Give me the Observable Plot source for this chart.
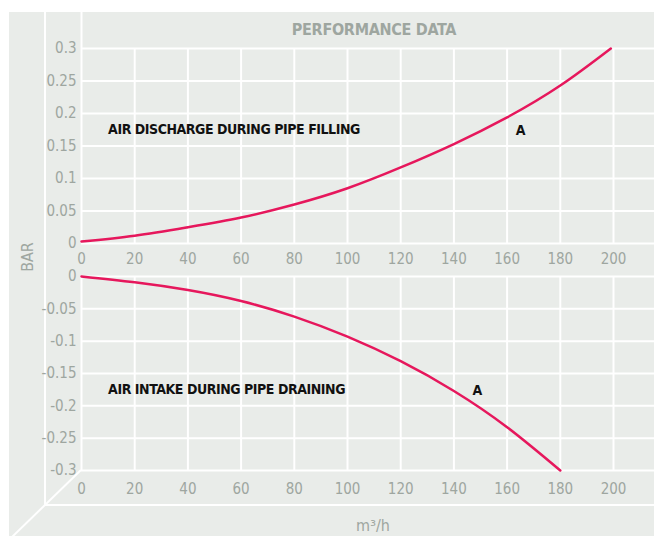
<!DOCTYPE html>
<html>
<head>
<meta charset="utf-8">
<script src="https://cdn.jsdelivr.net/npm/d3@7"></script>
<script src="https://cdn.jsdelivr.net/npm/@observablehq/plot@0.6"></script>
<style>
  body { margin: 0; background: #ffffff; }
  #wrap { position: relative; width: 654px; height: 536px; overflow: hidden;
          font-family: "Liberation Sans Narrow", "DejaVu Sans Condensed", Roboto, sans-serif; }
  #bg { position: absolute; left: 9px; top: 12px; width: 645px; height: 524px; background: #e9ece9; }
  #frame { position: absolute; left: 0; top: 0; }
  .abs { position: absolute; }
  #title { position: absolute; left: 274px; width: 200px; top: 20px; line-height: 20px; text-align: center;
           font-size: 16px; letter-spacing: -0.3px; font-weight: bold; color: #9ea6a0; }
  #ylab { position: absolute; left: 27px; top: 257px; transform: translate(-50%, -50%) rotate(-90deg);
          font-size: 16px; color: #9ea6a0; white-space: nowrap; }
  #xlab { position: absolute; left: 373px; top: 525px; transform: translate(-50%, -50%);
          font-size: 16px; color: #9ea6a0; white-space: nowrap; }
</style>
</head>
<body>
<div id="wrap">
  <div id="bg"></div>
  <svg id="frame" width="654" height="536">
    <g stroke="#ffffff" stroke-width="2" fill="none">
      <line x1="45" y1="12" x2="45" y2="505"></line>
      <line x1="45" y1="505" x2="654" y2="505"></line>
      <line x1="81" y1="470" x2="12" y2="537"></line>
    </g>
  </svg>
  <div id="title">PERFORMANCE DATA</div>
  <div id="top" class="abs" style="left:0;top:0"></div>
  <div id="bottom" class="abs" style="left:0;top:270px"></div>
  <div id="ylab">BAR</div>
  <div id="xlab">m³/h</div>
</div>
<script>
// ---- data ----
const xTicks = [0, 20, 40, 60, 80, 100, 120, 140, 160, 180, 200];
const upperTicks = [0, 0.05, 0.1, 0.15, 0.2, 0.25, 0.3];
const lowerTicks = [0, -0.05, -0.1, -0.15, -0.2, -0.25, -0.3];

const fillingFlow = [0, 20, 40, 60, 80, 100, 120, 140, 160, 180, 199];
const fillingBar  = [0.003, 0.012, 0.025, 0.040, 0.060, 0.085, 0.117, 0.153, 0.194, 0.243, 0.300];

const drainingFlow = [0, 20, 40, 60, 80, 100, 120, 140, 160, 180];
const drainingBar  = [0, -0.009, -0.021, -0.038, -0.062, -0.093, -0.131, -0.177, -0.233, -0.300];

const fillingLabel = "AIR DISCHARGE DURING PIPE FILLING";
const drainingLabel = "AIR INTAKE DURING PIPE DRAINING";
const curveName = "A";

// ---- styling ----
const font = '"Liberation Sans Narrow", "DejaVu Sans Condensed", Roboto, sans-serif';
const gray = "#9ea6a0", pink = "#e6175c", white = "#ffffff", ink = "#111111";
const fmt = d => String(+d.toFixed(2));
const xMax = 200 * 573 / 532;

function panel(o) {
  const pts = o.flow.map((x, i) => ({x, y: o.bar[i]}));
  const marks = [
    Plot.ruleY(o.yTicks, {stroke: white, strokeWidth: 2}),
    Plot.ruleX(xTicks, {y1: o.yDomain[0], y2: o.yDomain[1], stroke: white, strokeWidth: 2}),
  ];
  if (o.extraTop) marks.push(Plot.ruleX([0], {y1: o.yDomain[1], y2: o.extraTop, stroke: white, strokeWidth: 2}));
  marks.push(
    Plot.line(pts, {x: "x", y: "y", stroke: pink, strokeWidth: 2.5, curve: "natural"}),
    Plot.text([o.label], {x: 10, y: o.labelY, text: d => d, textAnchor: "start", fill: ink, fontWeight: "bold", fontSize: 14}),
    Plot.text([curveName], {x: o.aX, y: o.aY, text: d => d, fill: ink, fontWeight: "bold", fontSize: 14}),
    Plot.axisX({ticks: xTicks, tickSize: 0, tickPadding: o.tickPadX, tickFormat: d => String(d), label: null}),
    Plot.axisY({ticks: o.yTicks, tickSize: 0, tickPadding: 5, tickFormat: fmt, label: null})
  );
  const svg = Plot.plot({
    width: 654,
    height: o.height,
    marginLeft: 81,
    marginRight: 0,
    marginTop: o.marginTop,
    marginBottom: o.marginBottom,
    x: {domain: [0, xMax], label: null},
    y: {domain: o.yDomain, label: null},
    style: {background: "transparent", color: gray, fontFamily: font, fontSize: "15px", overflow: "visible"},
    marks
  });
  svg.querySelectorAll('g[font-weight="bold"]').forEach(g => g.style.letterSpacing = "-0.45px");
  return svg;
}

document.getElementById("top").append(panel({
  flow: fillingFlow, bar: fillingBar, yDomain: [0, 0.3], yTicks: upperTicks,
  label: fillingLabel, labelY: 0.175, aX: 165, aY: 0.174,
  height: 270, marginTop: 48, marginBottom: 27, tickPadX: 10, extraTop: 0.3 * 231 / 195
}));

document.getElementById("bottom").append(panel({
  flow: drainingFlow, bar: drainingBar, yDomain: [-0.3, 0], yTicks: lowerTicks,
  label: drainingLabel, labelY: -0.175, aX: 148.7, aY: -0.176,
  height: 266, marginTop: 6, marginBottom: 66, tickPadX: 13
}));
</script>
</body>
</html>
